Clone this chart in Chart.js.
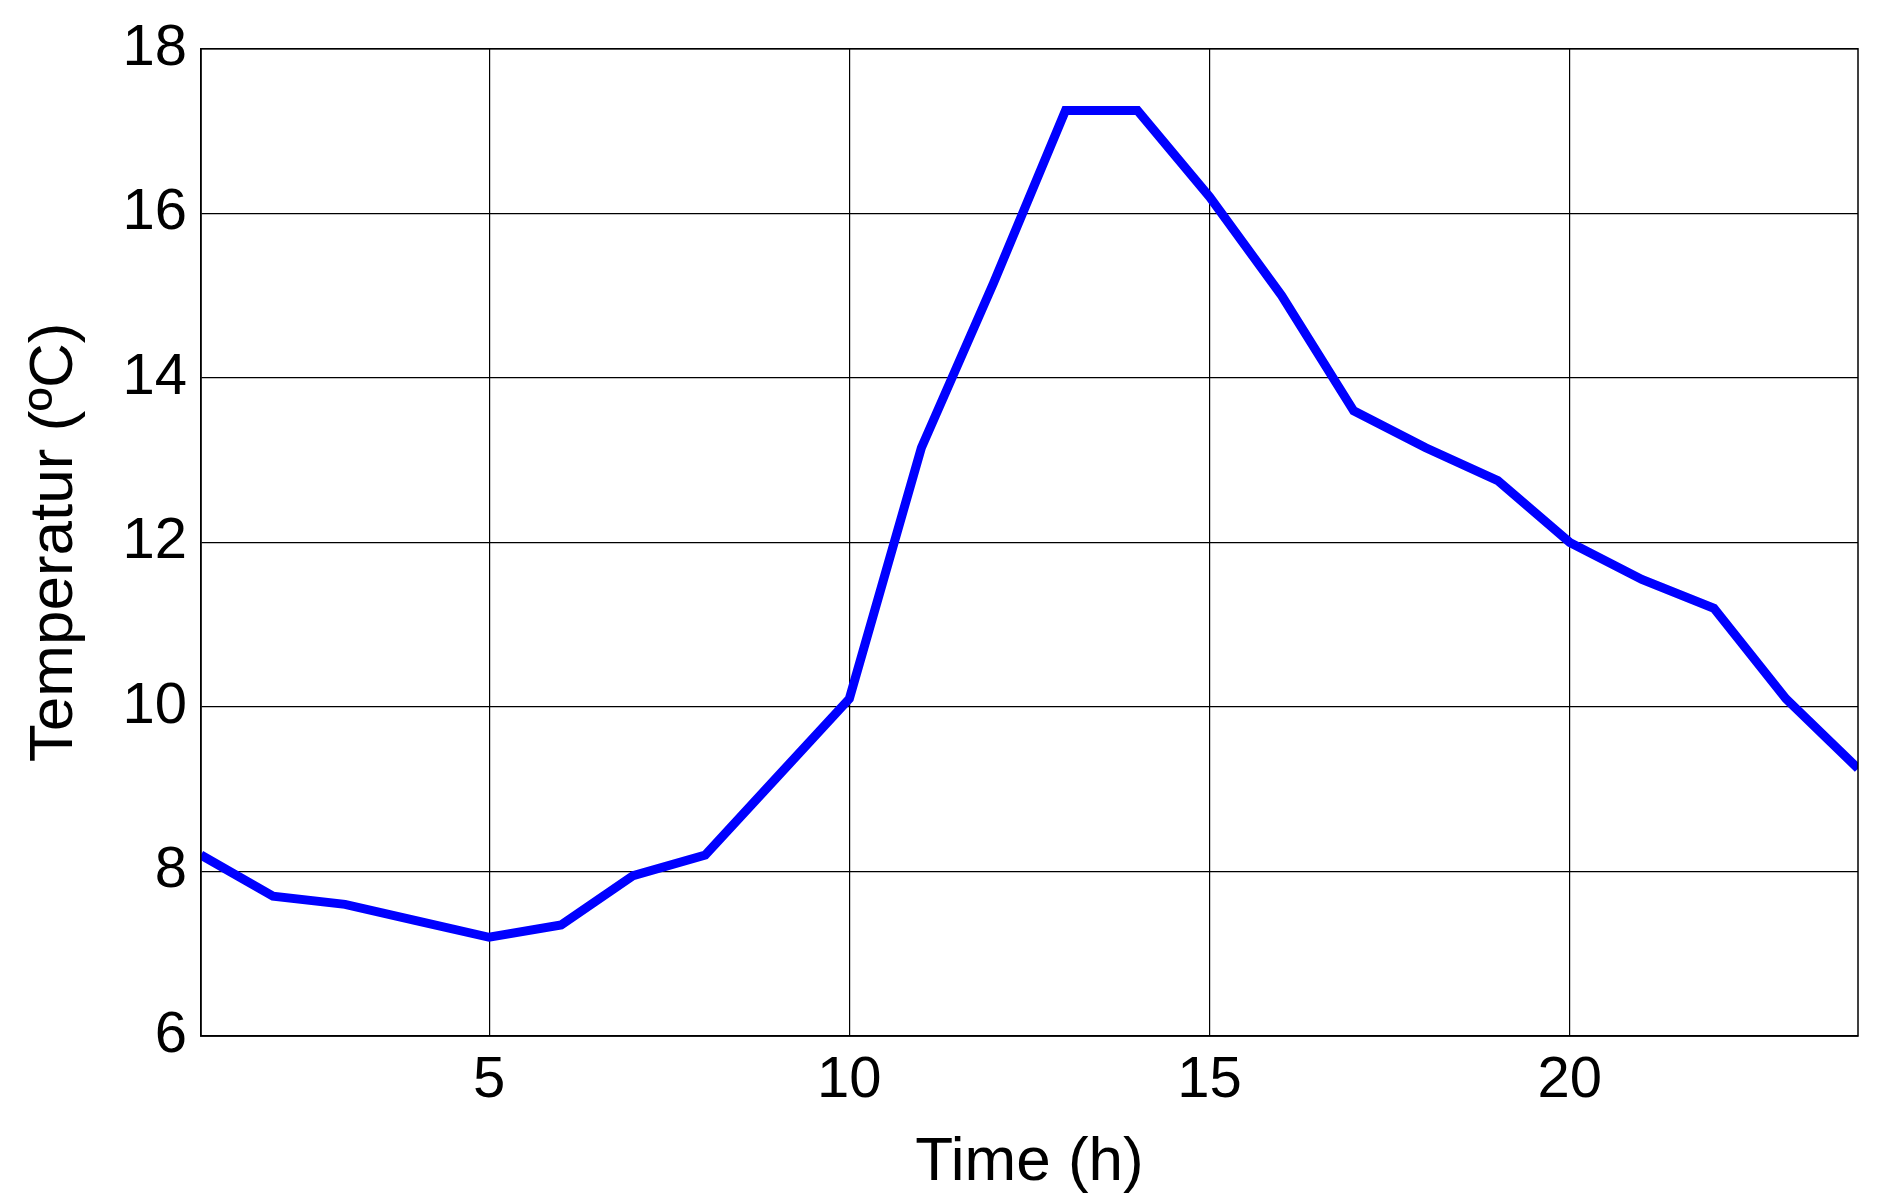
<!DOCTYPE html>
<html>
<head>
<meta charset="UTF-8">
<script src="https://cdn.jsdelivr.net/npm/chart.js@4"></script>
<style>
  html, body { margin: 0; background: #fff; }
  #wrap { width: 1882px; height: 1200px; }
</style>
</head>
<body>
<div id="wrap"><canvas id="c" width="1882" height="1200"></canvas></div>
<script>
const hours = [1,2,3,4,5,6,7,8,9,10,11,12,13,14,15,16,17,18,19,20,21,22,23,24];
const temps = [8.2,7.7,7.6,7.4,7.2,7.35,7.95,8.2,9.15,10.1,13.15,15.15,17.25,17.25,16.2,15.0,13.6,13.15,12.75,12.0,11.55,11.2,10.1,9.25];
const xTicks = [5,10,15,20];

Chart.defaults.font.family = '"Liberation Sans", Arial, sans-serif';
Chart.defaults.color = '#000';

new Chart(document.getElementById('c'), {
  type: 'line',
  data: {
    datasets: [{
      data: hours.map((h, i) => ({x: h, y: temps[i]})),
      borderColor: '#0000ff',
      borderWidth: 9,
      pointRadius: 0,
      tension: 0
    }]
  },
  options: {
    responsive: false,
    animation: false,
    layout: {padding: {top: 16, right: 24, bottom: 0, left: 14}},
    plugins: {legend: {display: false}, tooltip: {enabled: false}},
    scales: {
      x: {
        type: 'linear', min: 1, max: 24,
        afterBuildTicks: ax => { ax.ticks = xTicks.map(v => ({value: v})); },
        grid: {color: '#000', lineWidth: 1.2, drawTicks: false},
        border: {color: '#000', width: 1.5},
        ticks: {font: {size: 58}, padding: 10},
        title: {display: true, text: 'Time (h)', font: {size: 62}, padding: {top: 0, bottom: 0}}
      },
      y: {
        min: 6, max: 18,
        grid: {color: '#000', lineWidth: 1.2, drawTicks: false},
        border: {color: '#000', width: 1.5},
        ticks: {stepSize: 2, font: {size: 58}, padding: 14},
        title: {display: true, text: 'Temperatur (ºC)', font: {size: 62}, padding: {bottom: 16}}
      }
    }
  },
  plugins: [{
    id: 'frame',
    afterDraw(chart) {
      const {ctx, chartArea: a} = chart;
      ctx.save();
      ctx.strokeStyle = '#000';
      ctx.lineWidth = 1.5;
      ctx.strokeRect(a.left, a.top, a.right - a.left, a.bottom - a.top);
      ctx.restore();
    }
  }]
});
</script>
</body>
</html>
